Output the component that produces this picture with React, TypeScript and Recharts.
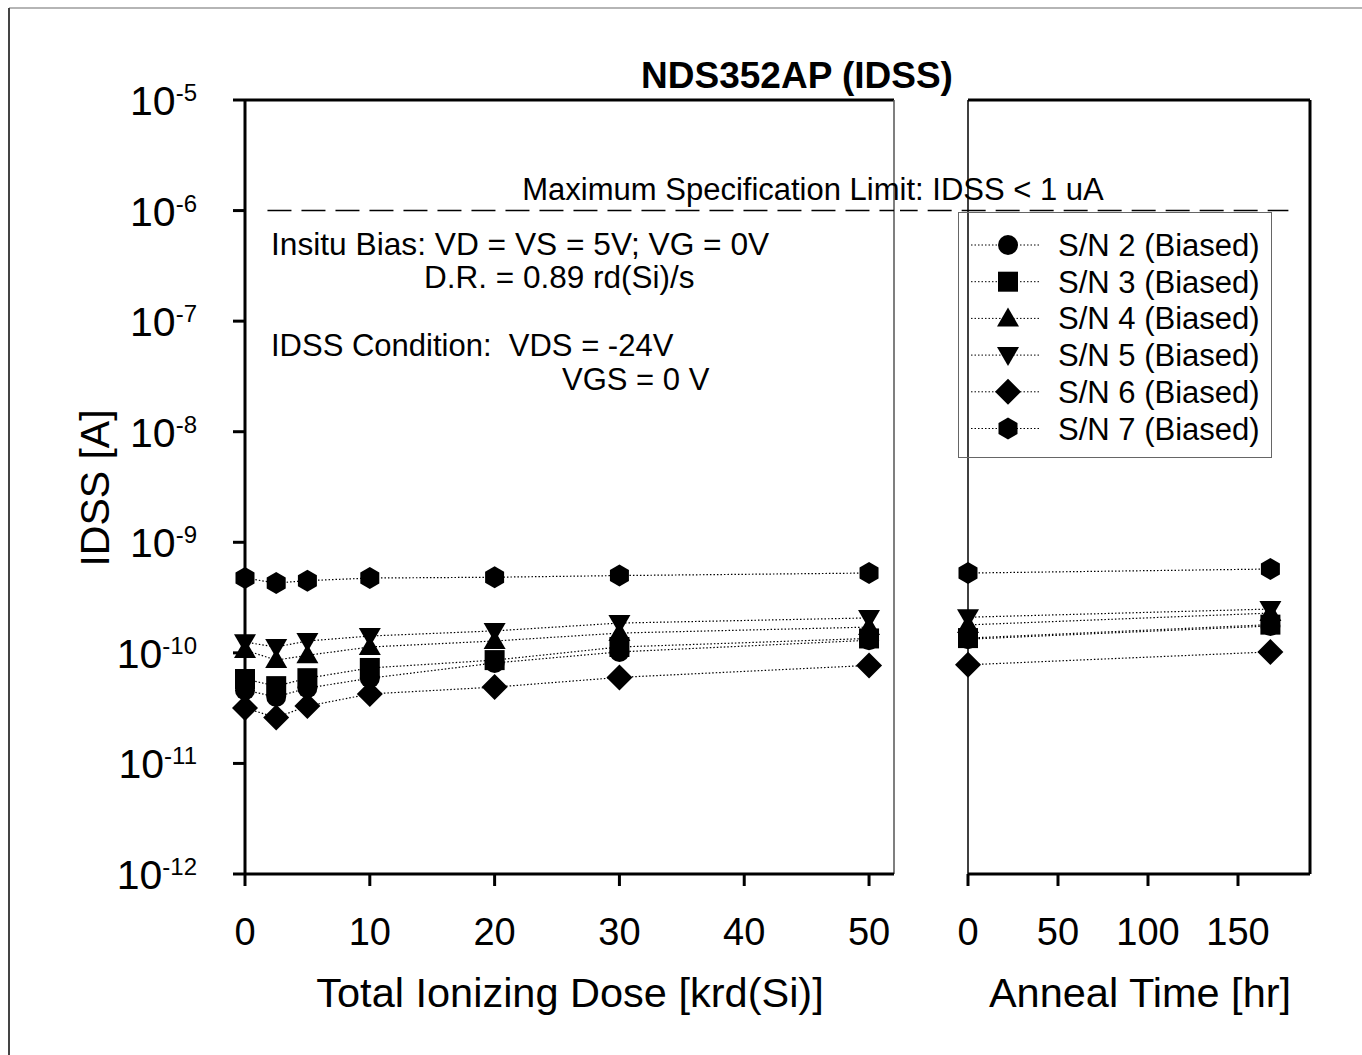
import React from "react";
import { LineChart, Line, XAxis, YAxis, ReferenceLine } from "recharts";

// x values
const doseKrd = [0, 2.5, 5, 10, 20, 30, 50];
const annealHr = [0, 168];
const doseTicks = [0, 10, 20, 30, 40, 50];
const annealTicks = [0, 50, 100, 150];
const decadeTicks = [1e-12, 1e-11, 1e-10, 1e-9, 1e-8, 1e-7, 1e-6, 1e-5];

// IDSS [A] per device, dose steps then anneal steps
const sn2Dose = [4.6e-11, 4.0e-11, 4.8e-11, 5.9e-11, 8.1e-11, 1.02e-10, 1.3e-10];
const sn2Anneal = [1.33e-10, 1.75e-10];
const sn3Dose = [5.8e-11, 5.0e-11, 5.9e-11, 7.3e-11, 8.6e-11, 1.13e-10, 1.35e-10];
const sn3Anneal = [1.36e-10, 1.8e-10];
const sn4Dose = [1.06e-10, 8.6e-11, 9.5e-11, 1.13e-10, 1.28e-10, 1.51e-10, 1.71e-10];
const sn4Anneal = [1.79e-10, 2.29e-10];
const sn5Dose = [1.25e-10, 1.13e-10, 1.28e-10, 1.42e-10, 1.58e-10, 1.86e-10, 2.07e-10];
const sn5Anneal = [2.1e-10, 2.49e-10];
const sn6Dose = [3.17e-11, 2.6e-11, 3.3e-11, 4.25e-11, 4.9e-11, 6.0e-11, 7.7e-11];
const sn6Anneal = [7.8e-11, 1.02e-10];
const sn7Dose = [4.75e-10, 4.28e-10, 4.5e-10, 4.75e-10, 4.83e-10, 5.0e-10, 5.27e-10];
const sn7Anneal = [5.27e-10, 5.73e-10];

const series = [
  { key: "s2", name: "S/N 2 (Biased)", shape: "circle", dose: sn2Dose, anneal: sn2Anneal },
  { key: "s3", name: "S/N 3 (Biased)", shape: "square", dose: sn3Dose, anneal: sn3Anneal },
  { key: "s4", name: "S/N 4 (Biased)", shape: "triangle", dose: sn4Dose, anneal: sn4Anneal },
  { key: "s5", name: "S/N 5 (Biased)", shape: "triangleDown", dose: sn5Dose, anneal: sn5Anneal },
  { key: "s6", name: "S/N 6 (Biased)", shape: "diamond", dose: sn6Dose, anneal: sn6Anneal },
  { key: "s7", name: "S/N 7 (Biased)", shape: "hexagon", dose: sn7Dose, anneal: sn7Anneal },
];

const doseRows = doseKrd.map((x, i) => {
  const row: Record<string, number> = { x };
  series.forEach((s) => (row[s.key] = s.dose[i]));
  return row;
});
const annealRows = annealHr.map((x, i) => {
  const row: Record<string, number> = { x };
  series.forEach((s) => (row[s.key] = s.anneal[i]));
  return row;
});

const FONT = '"Liberation Sans", Arial, Helvetica, sans-serif';

function Marker({ shape, cx, cy }: { shape: string; cx: number; cy: number }) {
  if (cx == null || cy == null) return null;
  switch (shape) {
    case "circle":
      return <circle cx={cx} cy={cy} r={10} fill="#000" />;
    case "square":
      return <rect x={cx - 10} y={cy - 10} width={20} height={20} fill="#000" />;
    case "triangle":
      return <path d={`M${cx},${cy - 11} L${cx + 11},${cy + 8} L${cx - 11},${cy + 8} Z`} fill="#000" />;
    case "triangleDown":
      return <path d={`M${cx},${cy + 11} L${cx + 11},${cy - 8} L${cx - 11},${cy - 8} Z`} fill="#000" />;
    case "diamond":
      return <path d={`M${cx},${cy - 13} L${cx + 13},${cy} L${cx},${cy + 13} L${cx - 13},${cy} Z`} fill="#000" />;
    default:
      return (
        <path
          d={`M${cx},${cy - 11} L${cx + 9.5},${cy - 5.5} L${cx + 9.5},${cy + 5.5} L${cx},${cy + 11} L${cx - 9.5},${cy + 5.5} L${cx - 9.5},${cy - 5.5} Z`}
          fill="#000"
        />
      );
  }
}

const dotFor = (shape: string) => (props: any) =>
  <Marker key={`${shape}-${props.index}`} shape={shape} cx={props.cx} cy={props.cy} />;

const YTick = (props: any) => {
  const exp = Math.round(Math.log10(props.payload.value));
  return (
    <text x={197} y={props.y + 15} textAnchor="end" fontSize={41} fontFamily={FONT} fill="#000">
      <tspan>10</tspan>
      <tspan fontSize={24} dy={-14}>{exp}</tspan>
    </text>
  );
};

const XTick = (props: any) => (
  <text x={props.x} y={945} textAnchor="middle" fontSize={38} fontFamily={FONT} fill="#000">
    {props.payload.value}
  </text>
);

const axisLine = { stroke: "#000", strokeWidth: 3 };

function Lines() {
  return series.map((s) => (
    <Line
      key={s.key}
      dataKey={s.key}
      stroke="#000"
      strokeWidth={1.2}
      strokeDasharray="1.5 2"
      dot={dotFor(s.shape)}
      activeDot={false}
      isAnimationActive={false}
    />
  ));
}

export default function App() {
  return (
    <div style={{ position: "absolute", left: 0, top: 0, width: 1362, height: 1055, overflow: "hidden", background: "#fff" }}>
      <div style={{ position: "absolute", left: 0, top: 0 }}>
        <LineChart width={950} height={1010} data={doseRows} margin={{ top: 100, right: 56, bottom: 0, left: 0 }}>
          <XAxis
            type="number"
            dataKey="x"
            domain={[0, 52]}
            ticks={doseTicks}
            interval={0}
            height={136}
            axisLine={axisLine}
            tickLine={axisLine}
            tickSize={12}
            tick={XTick}
          />
          <YAxis
            type="number"
            scale="log"
            domain={[1e-12, 1e-5]}
            ticks={decadeTicks}
            interval={0}
            width={245}
            axisLine={axisLine}
            tickLine={axisLine}
            tickSize={12}
            tick={YTick}
          />
          <ReferenceLine y={1e-5} stroke="#000" strokeWidth={3} />
          <ReferenceLine x={52} stroke="#555" strokeWidth={1.5} />
          <ReferenceLine
            segment={[{ x: 1.8, y: 1e-6 }, { x: 52, y: 1e-6 }]}
            stroke="#000"
            strokeWidth={1.5}
            strokeDasharray="24 10"
          />
          {Lines()}
        </LineChart>
      </div>
      <div style={{ position: "absolute", left: 900, top: 0 }}>
        <LineChart width={440} height={1010} data={annealRows} margin={{ top: 100, right: 30, bottom: 0, left: 68 }}>
          <XAxis
            type="number"
            dataKey="x"
            domain={[0, 190]}
            ticks={annealTicks}
            interval={0}
            height={136}
            axisLine={axisLine}
            tickLine={axisLine}
            tickSize={12}
            tick={XTick}
          />
          <YAxis type="number" scale="log" domain={[1e-12, 1e-5]} hide />
          <ReferenceLine x={0} stroke="#000" strokeWidth={1.5} />
          <ReferenceLine x={190} stroke="#000" strokeWidth={3} />
          <ReferenceLine y={1e-5} stroke="#000" strokeWidth={3} />
          <ReferenceLine
            segment={[{ x: -41.3, y: 1e-6 }, { x: 178, y: 1e-6 }]}
            stroke="#000"
            strokeWidth={1.5}
            strokeDasharray="24 10"
            ifOverflow="visible"
          />
          {Lines()}
        </LineChart>
      </div>

      {/* legend */}
      <div
        style={{
          position: "absolute",
          left: 958,
          top: 212,
          width: 312,
          height: 244,
          border: "1px solid #666",
        }}
      >
        <svg width={312} height={244} style={{ display: "block" }}>
          {series.map((s, i) => {
            const cy = 32 + i * 36.7;
            return (
              <g key={s.key}>
                <line x1={12} x2={82} y1={cy} y2={cy} stroke="#000" strokeWidth={1} strokeDasharray="1.5 2" />
                <Marker shape={s.shape} cx={49} cy={cy} />
                <text x={99} y={cy + 11} fontSize={31} fontFamily={FONT} fill="#000">
                  {s.name}
                </text>
              </g>
            );
          })}
        </svg>
      </div>

      {/* titles and notes */}
      <svg width={1362} height={1055} style={{ position: "absolute", left: 0, top: 0, pointerEvents: "none" }}>
        <line x1={9} y1={8} x2={1362} y2={8} stroke="#b5b5b5" strokeWidth={2} />
        <line x1={9} y1={8} x2={9} y2={1055} stroke="#444" strokeWidth={2} />
        <g fontFamily={FONT} fill="#000">
          <text x={797} y={88} textAnchor="middle" fontSize={37} fontWeight="bold">
            NDS352AP (IDSS)
          </text>
          <text x={813} y={200} textAnchor="middle" fontSize={31}>
            Maximum Specification Limit: IDSS &lt; 1 uA
          </text>
          <text x={271} y={255} fontSize={31.7}>
            Insitu Bias: VD = VS = 5V; VG = 0V
          </text>
          <text x={424} y={288} fontSize={31.5}>
            D.R. = 0.89 rd(Si)/s
          </text>
          <text x={271} y={356} fontSize={31} style={{ whiteSpace: "pre" }}>
            {"IDSS Condition:  VDS = -24V"}
          </text>
          <text x={562} y={390} fontSize={31}>
            VGS = 0 V
          </text>
          <text x={570} y={1007} textAnchor="middle" fontSize={41.5}>
            Total Ionizing Dose [krd(Si)]
          </text>
          <text x={1140} y={1007} textAnchor="middle" fontSize={41.5}>
            Anneal Time [hr]
          </text>
          <text x={109} y={488} textAnchor="middle" fontSize={41} transform="rotate(-90 109 488)">
            IDSS [A]
          </text>
        </g>
      </svg>
    </div>
  );
}
